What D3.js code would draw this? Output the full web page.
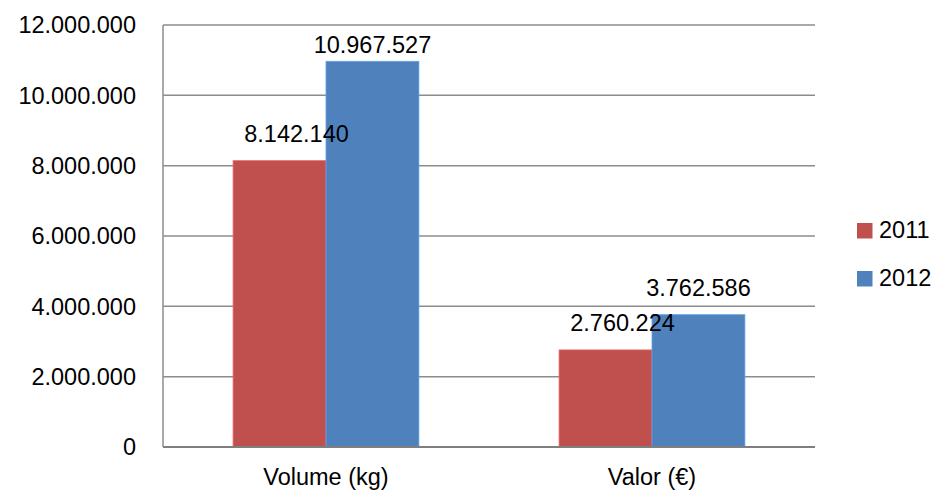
<html>
<head>
    <meta charset="utf-8">
    <script src="https://cdn.jsdelivr.net/npm/d3@7"></script>
    <style>
        body { margin: 0; background: #fff; }
        text { font-family: "Liberation Sans", Arial, sans-serif; fill: #000; }
    </style>
</head>
<body>
<svg id="chart" width="936" height="495"></svg>
<script>
    // data
    const categories = ["Volume (kg)", "Valor (€)"];
    const series = ["2011", "2012"];
    const values2011 = [8142140, 2760224];
    const values2012 = [10967527, 3762586];
    const yTicks = [0, 2000000, 4000000, 6000000, 8000000, 10000000, 12000000];
    const colors = { "2011": "#C0504D", "2012": "#4F81BD" };

    const svg = d3.select("#chart");
    const margin = { top: 25, left: 163, right: 121, bottom: 48 };
    const width = 936 - margin.left - margin.right;
    const height = 495 - margin.top - margin.bottom;
    const g = svg.append("g").attr("transform", `translate(${margin.left},${margin.top})`);

    const fmt = v => d3.format(",")(v).replace(/,/g, ".");

    const x = d3.scaleBand().domain(categories).range([0, width]).paddingInner(0.43).paddingOuter(0.215);
    const x1 = d3.scaleBand().domain(series).range([0, x.bandwidth()]);
    const y = d3.scaleLinear().domain([0, 12000000]).range([height, 0]);

    // gridlines
    g.selectAll(".grid").data(yTicks.filter(d => d > 0)).join("line")
        .attr("x1", 0).attr("x2", width)
        .attr("y1", d => y(d)).attr("y2", d => y(d))
        .attr("stroke", "#8c8c8c").attr("stroke-width", 1.5);

    // y labels
    g.selectAll(".ylab").data(yTicks).join("text")
        .attr("x", -27).attr("y", d => y(d)).attr("dy", "0.35em")
        .attr("text-anchor", "end").style("font-size", "23.5px")
        .text(d => fmt(d));

    const rows = categories.map((c, i) => ({ cat: c, vals: [
        { s: "2011", v: values2011[i] }, { s: "2012", v: values2012[i] }] }));

    const groups = g.selectAll(".grp").data(rows).join("g")
        .attr("transform", d => `translate(${x(d.cat)},0)`);

    groups.selectAll("rect").data(d => d.vals).join("rect")
        .attr("x", d => x1(d.s)).attr("width", x1.bandwidth())
        .attr("y", d => y(d.v)).attr("height", d => height - y(d.v))
        .attr("fill", d => colors[d.s])
        .attr("stroke", d => d3.color(colors[d.s]).brighter(0.6)).attr("stroke-width", 0.8);

    // value labels (pushed down near the top of the plot, like the original)
    groups.selectAll(".val").data(d => d.vals).join("text")
        .attr("x", d => x1(d.s) + x1.bandwidth() / 2 + (d.s === "2011" ? 17 : 0))
        .attr("y", d => Math.max(y(d.v) - 19, 28))
        .attr("text-anchor", "middle").style("font-size", "23.5px")
        .text(d => fmt(d.v));

    // axes lines
    g.append("line").attr("x1", 0).attr("x2", 0).attr("y1", 0).attr("y2", height)
        .attr("stroke", "#8c8c8c").attr("stroke-width", 1.5);
    g.append("line").attr("x1", 0).attr("x2", width).attr("y1", height).attr("y2", height)
        .attr("stroke", "#7f7f7f").attr("stroke-width", 2);

    // category labels
    g.selectAll(".cat").data(categories).join("text")
        .attr("x", d => x(d) + x.bandwidth() / 2).attr("y", height + 38)
        .attr("text-anchor", "middle").style("font-size", "23.5px")
        .text(d => d);

    // legend
    const legend = svg.append("g").attr("transform", "translate(857,223)");
    const li = legend.selectAll("g").data(series).join("g")
        .attr("transform", (d, i) => `translate(0,${i * 48})`);
    li.append("rect").attr("width", 15.5).attr("height", 15.5).attr("fill", d => colors[d]);
    li.append("text").attr("x", 22).attr("y", 15).style("font-size", "23.5px").text(d => d);
</script>
</body>
</html>
